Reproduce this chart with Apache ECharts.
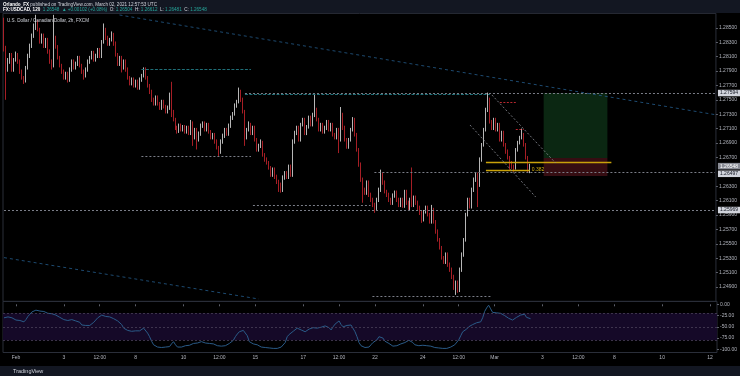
<!DOCTYPE html>
<html><head><meta charset="utf-8">
<script src="https://cdn.jsdelivr.net/npm/echarts@6/dist/echarts.min.js"></script>
<style>html,body{margin:0;padding:0;background:#000;}#c{width:740px;height:376px;}</style>
</head><body><div id="c"></div>
<script>
// ---- data: 2h candles [open, close, low, high] ----
const ohlc = [
[1.2858,1.2822,1.2817,1.2864],[1.2822,1.2795,1.2750,1.2825],[1.2795,1.2803,1.2789,1.2808],[1.2803,1.2813,1.2800,1.2815],[1.2813,1.2792,1.2789,1.2815],
[1.2792,1.2806,1.2789,1.2808],[1.2806,1.2813,1.2803,1.2817],[1.2813,1.2803,1.2800,1.2815],[1.2803,1.2789,1.2786,1.2806],[1.2789,1.2781,1.2778,1.2792],
[1.2781,1.2776,1.2772,1.2783],[1.2776,1.2795,1.2774,1.2797],[1.2795,1.2811,1.2792,1.2814],[1.2811,1.2825,1.2808,1.2828],[1.2825,1.2839,1.2822,1.2842],
[1.2839,1.2850,1.2836,1.2856],[1.2850,1.2858,1.2847,1.2868],[1.2858,1.2847,1.2845,1.2861],[1.2847,1.2831,1.2828,1.2850],[1.2831,1.2839,1.2828,1.2842],
[1.2839,1.2825,1.2822,1.2842],[1.2825,1.2833,1.2822,1.2836],[1.2833,1.2817,1.2814,1.2836],[1.2817,1.2803,1.2800,1.2820],[1.2803,1.2797,1.2792,1.2806],
[1.2797,1.2836,1.2795,1.2868],[1.2836,1.2824,1.2821,1.2839],[1.2824,1.2808,1.2806,1.2826],[1.2808,1.2797,1.2795,1.2811],[1.2797,1.2789,1.2786,1.2800],
[1.2789,1.2781,1.2778,1.2792],[1.2781,1.2786,1.2778,1.2789],[1.2786,1.2778,1.2774,1.2789],[1.2778,1.2792,1.2775,1.2795],[1.2792,1.2803,1.2789,1.2806],
[1.2803,1.2795,1.2792,1.2806],[1.2795,1.2800,1.2792,1.2803],[1.2800,1.2808,1.2797,1.2811],[1.2808,1.2797,1.2795,1.2811],[1.2797,1.2789,1.2786,1.2800],
[1.2789,1.2783,1.2778,1.2792],[1.2783,1.2792,1.2781,1.2795],[1.2792,1.2803,1.2789,1.2806],[1.2803,1.2808,1.2800,1.2811],[1.2808,1.2815,1.2806,1.2818],
[1.2815,1.2806,1.2803,1.2818],[1.2806,1.2811,1.2803,1.2814],[1.2811,1.2820,1.2808,1.2822],[1.2820,1.2811,1.2808,1.2822],[1.2811,1.2831,1.2808,1.2833],
[1.2831,1.2847,1.2828,1.2856],[1.2847,1.2836,1.2833,1.2850],[1.2836,1.2828,1.2825,1.2839],[1.2828,1.2833,1.2825,1.2836],[1.2833,1.2840,1.2831,1.2845],
[1.2840,1.2828,1.2825,1.2843],[1.2828,1.2813,1.2810,1.2831],[1.2813,1.2800,1.2797,1.2815],[1.2800,1.2808,1.2797,1.2811],[1.2808,1.2795,1.2788,1.2811],
[1.2795,1.2803,1.2792,1.2806],[1.2803,1.2792,1.2789,1.2806],[1.2792,1.2781,1.2778,1.2795],[1.2781,1.2772,1.2770,1.2783],[1.2772,1.2778,1.2770,1.2781],
[1.2778,1.2770,1.2767,1.2781],[1.2770,1.2775,1.2767,1.2778],[1.2775,1.2767,1.2764,1.2778],[1.2767,1.2778,1.2764,1.2781],[1.2778,1.2783,1.2775,1.2786],
[1.2783,1.2792,1.2781,1.2795],[1.2792,1.2781,1.2778,1.2795],[1.2781,1.2770,1.2767,1.2783],[1.2770,1.2761,1.2758,1.2772],[1.2761,1.2750,1.2747,1.2764],
[1.2750,1.2745,1.2742,1.2753],[1.2745,1.2753,1.2742,1.2756],[1.2753,1.2745,1.2742,1.2756],[1.2745,1.2739,1.2736,1.2747],[1.2739,1.2747,1.2736,1.2750],
[1.2747,1.2740,1.2738,1.2750],[1.2740,1.2733,1.2731,1.2743],[1.2733,1.2739,1.2731,1.2742],[1.2739,1.2756,1.2736,1.2760],[1.2756,1.2733,1.2726,1.2775],
[1.2733,1.2722,1.2720,1.2736],[1.2722,1.2711,1.2708,1.2725],[1.2711,1.2707,1.2703,1.2714],[1.2707,1.2714,1.2704,1.2717],[1.2714,1.2708,1.2706,1.2717],
[1.2708,1.2713,1.2706,1.2715],[1.2713,1.2706,1.2703,1.2715],[1.2706,1.2711,1.2703,1.2714],[1.2711,1.2704,1.2701,1.2714],[1.2704,1.2717,1.2701,1.2722],
[1.2717,1.2697,1.2686,1.2720],[1.2697,1.2708,1.2695,1.2711],[1.2708,1.2695,1.2681,1.2711],[1.2695,1.2703,1.2692,1.2706],[1.2703,1.2714,1.2700,1.2717],
[1.2714,1.2717,1.2711,1.2720],[1.2717,1.2708,1.2706,1.2720],[1.2708,1.2715,1.2706,1.2718],[1.2715,1.2706,1.2703,1.2718],[1.2706,1.2697,1.2695,1.2708],
[1.2697,1.2701,1.2695,1.2704],[1.2701,1.2692,1.2689,1.2704],[1.2692,1.2683,1.2681,1.2695],[1.2683,1.2678,1.2672,1.2686],[1.2678,1.2692,1.2675,1.2695],
[1.2692,1.2700,1.2689,1.2703],[1.2700,1.2708,1.2697,1.2711],[1.2708,1.2703,1.2700,1.2711],[1.2703,1.2714,1.2700,1.2717],[1.2714,1.2725,1.2711,1.2728],
[1.2725,1.2731,1.2722,1.2733],[1.2731,1.2742,1.2728,1.2745],[1.2742,1.2747,1.2739,1.2750],[1.2747,1.2758,1.2745,1.2767],[1.2758,1.2750,1.2747,1.2764],
[1.2750,1.2733,1.2731,1.2753],[1.2733,1.2697,1.2686,1.2736],[1.2697,1.2708,1.2695,1.2711],[1.2708,1.2715,1.2706,1.2720],[1.2715,1.2704,1.2701,1.2718],
[1.2704,1.2711,1.2701,1.2714],[1.2711,1.2695,1.2692,1.2714],[1.2695,1.2681,1.2678,1.2697],[1.2681,1.2686,1.2678,1.2689],[1.2686,1.2690,1.2683,1.2695],
[1.2690,1.2674,1.2671,1.2693],[1.2674,1.2667,1.2664,1.2676],[1.2667,1.2663,1.2660,1.2670],[1.2663,1.2656,1.2653,1.2665],[1.2656,1.2646,1.2643,1.2658],
[1.2646,1.2653,1.2643,1.2656],[1.2653,1.2643,1.2640,1.2656],[1.2643,1.2636,1.2633,1.2646],[1.2636,1.2632,1.2622,1.2639],[1.2632,1.2625,1.2621,1.2635],
[1.2625,1.2642,1.2622,1.2645],[1.2642,1.2649,1.2639,1.2651],[1.2649,1.2643,1.2640,1.2651],[1.2643,1.2657,1.2640,1.2660],[1.2657,1.2646,1.2643,1.2660],
[1.2646,1.2692,1.2643,1.2695],[1.2692,1.2704,1.2689,1.2707],[1.2704,1.2711,1.2701,1.2714],[1.2711,1.2695,1.2692,1.2714],[1.2695,1.2715,1.2692,1.2718],
[1.2715,1.2722,1.2713,1.2725],[1.2722,1.2704,1.2701,1.2725],[1.2704,1.2713,1.2701,1.2715],[1.2713,1.2725,1.2710,1.2728],[1.2725,1.2715,1.2713,1.2728],
[1.2715,1.2729,1.2713,1.2732],[1.2729,1.2736,1.2726,1.2757],[1.2736,1.2722,1.2720,1.2739],[1.2722,1.2708,1.2706,1.2725],[1.2708,1.2715,1.2706,1.2718],
[1.2715,1.2706,1.2703,1.2718],[1.2706,1.2711,1.2703,1.2714],[1.2711,1.2720,1.2708,1.2722],[1.2720,1.2708,1.2706,1.2722],[1.2708,1.2715,1.2706,1.2718],
[1.2715,1.2701,1.2699,1.2718],[1.2701,1.2697,1.2695,1.2704],[1.2697,1.2708,1.2695,1.2711],[1.2708,1.2695,1.2676,1.2711],[1.2695,1.2729,1.2692,1.2740],
[1.2729,1.2711,1.2708,1.2732],[1.2711,1.2695,1.2692,1.2714],[1.2695,1.2685,1.2682,1.2697],[1.2685,1.2695,1.2682,1.2697],[1.2695,1.2708,1.2692,1.2711],
[1.2708,1.2722,1.2706,1.2726],[1.2722,1.2701,1.2699,1.2725],[1.2701,1.2681,1.2678,1.2704],[1.2681,1.2660,1.2657,1.2683],[1.2660,1.2639,1.2636,1.2663],
[1.2639,1.2625,1.2607,1.2642],[1.2625,1.2621,1.2618,1.2628],[1.2621,1.2635,1.2618,1.2638],[1.2635,1.2618,1.2615,1.2638],[1.2618,1.2611,1.2608,1.2621],
[1.2611,1.2604,1.2601,1.2614],[1.2604,1.2600,1.2593,1.2607],[1.2600,1.2611,1.2597,1.2614],[1.2611,1.2625,1.2608,1.2628],[1.2625,1.2646,1.2622,1.2653],
[1.2646,1.2635,1.2632,1.2649],[1.2635,1.2622,1.2620,1.2638],[1.2622,1.2618,1.2615,1.2625],[1.2618,1.2611,1.2608,1.2621],[1.2611,1.2607,1.2604,1.2614],
[1.2607,1.2617,1.2604,1.2620],[1.2617,1.2621,1.2614,1.2624],[1.2621,1.2611,1.2608,1.2624],[1.2611,1.2604,1.2601,1.2614],[1.2604,1.2611,1.2601,1.2614],
[1.2611,1.2603,1.2600,1.2614],[1.2603,1.2622,1.2600,1.2625],[1.2622,1.2607,1.2604,1.2625],[1.2607,1.2600,1.2597,1.2610],[1.2600,1.2611,1.2597,1.2614],
[1.2611,1.2604,1.2601,1.2656],[1.2604,1.2614,1.2601,1.2617],[1.2614,1.2607,1.2604,1.2617],[1.2607,1.2600,1.2597,1.2610],[1.2600,1.2593,1.2590,1.2603],
[1.2593,1.2583,1.2579,1.2596],[1.2583,1.2595,1.2581,1.2597],[1.2595,1.2600,1.2592,1.2603],[1.2600,1.2590,1.2588,1.2603],[1.2590,1.2581,1.2578,1.2593],
[1.2581,1.2597,1.2578,1.2604],[1.2597,1.2581,1.2578,1.2600],[1.2581,1.2567,1.2564,1.2583],[1.2567,1.2556,1.2553,1.2570],[1.2556,1.2545,1.2542,1.2558],
[1.2545,1.2531,1.2528,1.2547],[1.2531,1.2525,1.2522,1.2533],[1.2525,1.2535,1.2522,1.2538],[1.2535,1.2521,1.2518,1.2538],[1.2521,1.2514,1.2511,1.2524],
[1.2514,1.2504,1.2501,1.2517],[1.2504,1.2489,1.2486,1.2507],[1.2489,1.2496,1.2479,1.2499],[1.2496,1.2486,1.2482,1.2499],[1.2486,1.2514,1.2483,1.2517],
[1.2514,1.2535,1.2511,1.2538],[1.2535,1.2556,1.2532,1.2558],[1.2556,1.2590,1.2553,1.2593],[1.2590,1.2611,1.2588,1.2614],[1.2611,1.2601,1.2599,1.2614],
[1.2601,1.2625,1.2599,1.2628],[1.2625,1.2639,1.2622,1.2642],[1.2639,1.2646,1.2636,1.2649],[1.2646,1.2632,1.2601,1.2649],[1.2632,1.2667,1.2629,1.2670],
[1.2667,1.2688,1.2664,1.2690],[1.2688,1.2708,1.2685,1.2711],[1.2708,1.2736,1.2706,1.2739],[1.2736,1.2750,1.2733,1.2760],[1.2750,1.2720,1.2717,1.2753],
[1.2720,1.2711,1.2708,1.2722],[1.2711,1.2722,1.2708,1.2725],[1.2722,1.2708,1.2706,1.2725],[1.2708,1.2715,1.2706,1.2718],[1.2715,1.2695,1.2692,1.2718],
[1.2695,1.2704,1.2692,1.2707],[1.2704,1.2688,1.2685,1.2707],[1.2688,1.2678,1.2675,1.2690],[1.2678,1.2670,1.2667,1.2681],[1.2670,1.2663,1.2653,1.2672],
[1.2663,1.2657,1.2654,1.2665],[1.2657,1.2656,1.2650,1.2660],[1.2656,1.2681,1.2653,1.2683],[1.2681,1.2690,1.2678,1.2693],[1.2690,1.2697,1.2688,1.2700],
[1.2697,1.2701,1.2695,1.2710],[1.2701,1.2688,1.2685,1.2704],[1.2688,1.2670,1.2667,1.2690],[1.2670,1.2651,1.2649,1.2672],[1.26504,1.26548,1.26481,1.26612]
];

// Williams %R (lower pane)
const williamsR = [
-30,-26,-28,-25,-30,-33,-35,-32,-36,-39,
-39,-34,-27,-22,-17,-14,-13,-13,-15,-18,
-16,-19,-20,-18,-21,-20,-24,-26,-29,-32,
-34,-31,-36,-37,-34,-36,-37,-35,-40,-46,
-44,-47,-46,-47,-44,-40,-35,-30,-28,-24,
-22,-27,-25,-28,-30,-32,-34,-37,-39,-45,
-53,-55,-58,-61,-60,-61,-59,-60,-59,-56,
-53,-56,-64,-72,-82,-90,-92,-95,-97,-96,
-93,-95,-96,-94,-88,-83,-90,-95,-97,-95,
-93,-92,-90,-91,-88,-87,-89,-86,-85,-83,
-84,-86,-85,-87,-89,-88,-90,-92,-94,-93,
-94,-92,-90,-87,-87,-80,-72,-66,-61,-60,
-58,-57,-70,-83,-85,-88,-87,-90,-93,-95,
-97,-96,-98,-97,-98,-98,-97,-98,-96,-95,
-94,-85,-72,-67,-64,-60,-56,-53,-53,-57,
-60,-61,-57,-55,-53,-52,-50,-53,-53,-51,
-49,-48,-47,-52,-57,-50,-44,-42,-37,-45,
-50,-49,-47,-46,-46,-50,-61,-72,-85,-92,
-94,-96,-97,-95,-90,-85,-82,-79,-72,-68,
-75,-82,-86,-87,-90,-93,-94,-92,-90,-88,
-87,-85,-82,-80,-79,-85,-90,-92,-92,-90,
-91,-90,-92,-90,-93,-95,-96,-97,-97,-98,
-98,-98,-98,-96,-95,-92,-90,-86,-79,-70,
-61,-57,-55,-50,-48,-45,-42,-41,-40,-39,
-30,-16,-8,-2,-10,-18,-18,-19,-20,-20,
-22,-25,-28,-31,-34,-35,-32,-29,-27,-24,
-20,-22,-29,-31,-32
];

// axis ticks / labels
const priceTicks = [1.249,1.251,1.253,1.255,1.257,1.259,1.261,1.263,1.267,1.269,1.271,1.273,1.275,1.277,1.279,1.281,1.283,1.285];
const rTicks = [0,-25,-50,-75,-100];
const timeLabels = [[6,'Feb'],[30,'3'],[48,'12:00'],[66,'8'],[90,'10'],[108,'12:00'],[126,'15'],[150,'17'],[168,'12:00'],[186,'22'],[210,'24'],[228,'12:00'],[246,'Mar'],[270,'3'],[288,'12:00'],[306,'8'],[330,'10'],[354,'12']];
const slotCount = 358;

// drawings (bar index, price)
const dottedLevels = [[69,124,1.26719],[125,184,1.26039],[0,357,1.25969],[121,357,1.27594],[186,357,1.26497],[185,245,1.24775]];
const labelledLevels = [1.25969,1.27594,1.26497];
const tealLevels = [[69,124,1.27921],[121,244,1.27573]];
const yellowLevels = [[242,305,1.26626],[242,264,1.26525]];
const redLevels = [[249,257,1.27469],[257,261,1.27094]];
const trendLines = [[58,1.28678,357,1.27294],[0,1.25308,128,1.24733]];
const channelLines = [[234,1.27150,267,1.26150],[245,1.27567,277,1.26622]];
const positionBox = {from:271, to:303, target:1.27594, entry:1.26692, stop:1.26442};
const lastClose = 1.26548;
const rBand = [-20,-80];
const rLevels = [-20,-50,-80];

const categories = [];
for (let i = 0; i < slotCount; i++) categories.push(String(i));
const labelMap = {};
timeLabels.forEach(t => labelMap[t[0]] = t[1]);

const FONT = 'Liberation Sans, Arial, sans-serif';
const markLines = [];
function seg(a, pa, b, pb, lineStyle, label) {
  markLines.push([{coord:[a,pa], lineStyle, label: label || {show:false}}, {coord:[b,pb]}]);
}
const axisLbl = (txt, bg, fg, dy) => ({show:true, position:'end', formatter:txt, fontSize:5, fontFamily:FONT,
  color:fg, backgroundColor:bg, padding:[1,2,0.5,2], distance:3, offset:[0, dy||0]});

dottedLevels.forEach(l => {
  const lab = labelledLevels.includes(l[2]) ? axisLbl(l[2].toFixed(5), '#d1d4dc', '#131722', l[2]===1.26497?1.8:0) : null;
  seg(l[0], l[2], l[1], l[2], {color:'#7b7e88', type:[2,2], width:1}, lab);
});
tealLevels.forEach(l => seg(l[0], l[2], l[1], l[2], {color:'#1f6f78', type:[3,1.5], width:1}));
yellowLevels.forEach((l, k) => seg(l[0], l[2], l[1], l[2], {color:'#c9a20a', type:'solid', width:1.3},
  k === 1 ? {show:true, position:'end', formatter:'0.382', fontSize:5, fontFamily:FONT, color:'#d9b20f', distance:2} : null));
redLevels.forEach(l => seg(l[0], l[2], l[1], l[2], {color:'#b8282f', type:[2,1.5], width:1}));
trendLines.forEach(l => seg(l[0], l[1], l[2], l[3], {color:'#1d4a70', type:[3,3], width:1}));
channelLines.forEach(l => seg(l[0], l[1], l[2], l[3], {color:'#8e9099', type:[2,2], width:0.8}));
seg(264, lastClose, slotCount - 1, lastClose, {color:'rgba(0,0,0,0)', width:0.01}, axisLbl(lastClose.toFixed(5), '#8a8d96', '#ffffff', -2.2));

const chart = echarts.init(document.getElementById('c'), null, {renderer:'canvas', width:740, height:376});
chart.setOption({
  animation:false,
  backgroundColor:'#000000',
  textStyle:{fontFamily:FONT},
  grid:[
    {left:3, right:23, top:13.4, height:288, show:true, borderColor:'#2a2e39', borderWidth:1},
    {left:3, right:23, top:301.4, height:51.1, show:true, borderColor:'#2a2e39', borderWidth:1}
  ],
  xAxis:[
    {gridIndex:0, type:'category', data:categories, boundaryGap:true, axisLine:{show:false}, axisTick:{show:false}, axisLabel:{show:false}, splitLine:{show:false}},
    {gridIndex:1, type:'category', data:categories, boundaryGap:true, axisLine:{show:false},
      axisTick:{show:true, alignWithLabel:true, length:2, interval:(i)=>labelMap[i]!==undefined, lineStyle:{color:'#5d606b'}},
      axisLabel:{interval:(i)=>labelMap[i]!==undefined, formatter:(v)=>labelMap[v]||'', fontSize:5, color:'#b2b5be', margin:3, fontFamily:FONT},
      splitLine:{show:false}}
  ],
  yAxis:[
    {gridIndex:0, type:'value', position:'right', min:1.247, max:1.287, axisLine:{show:false},
      axisTick:{show:true, customValues:priceTicks, length:2, lineStyle:{color:'#5d606b'}},
      axisLabel:{customValues:priceTicks, formatter:(v)=>v.toFixed(5), fontSize:5, color:'#b2b5be', margin:3, fontFamily:FONT},
      splitLine:{show:false}},
    {gridIndex:1, type:'value', position:'right', min:-107.11, max:6.44, axisLine:{show:false},
      axisTick:{show:true, customValues:rTicks, length:2, lineStyle:{color:'#5d606b'}},
      axisLabel:{customValues:rTicks, formatter:(v)=>v.toFixed(2), fontSize:5, color:'#b2b5be', margin:3, fontFamily:FONT},
      splitLine:{show:false}}
  ],
  series:[
    {type:'candlestick', xAxisIndex:0, yAxisIndex:0, data:ohlc, barWidth:1.3,
      itemStyle:{color:'#e4e4e4', color0:'#d0262e', borderColor:'#e4e4e4', borderColor0:'#d0262e', borderWidth:0.8},
      markArea:{silent:true, data:[
        [{coord:[positionBox.from, positionBox.target], itemStyle:{color:'#0b2712'}}, {coord:[positionBox.to, positionBox.entry]}],
        [{coord:[positionBox.from, positionBox.entry], itemStyle:{color:'#360d12'}}, {coord:[positionBox.to, positionBox.stop]}]
      ]},
      markLine:{silent:true, symbol:['none','none'], animation:false, data:markLines}
    },
    {type:'line', xAxisIndex:1, yAxisIndex:1, data:williamsR, symbol:'none', lineStyle:{color:'#2a5b88', width:1},
      markArea:{silent:true, itemStyle:{color:'#150928'}, data:[[{yAxis:rBand[0]},{yAxis:rBand[1]}]]},
      markLine:{silent:true, symbol:['none','none'], label:{show:false}, lineStyle:{color:'#4a4058', type:[2,2], width:0.8},
        data:rLevels.map(v=>({yAxis:v}))}
    }
  ],
  graphic:[
    {type:'rect', shape:{x:0,y:0,width:740,height:13}, style:{fill:'#131722'}, z:10},
    {type:'rect', shape:{x:0,y:366,width:740,height:10}, style:{fill:'#131722'}, z:10},
    {type:'text', x:3, y:4.6, z:11, style:{text:'{b|Orlando_FX} published on TradingView.com, March 02, 2021 12:57:53 UTC',
      fill:'#d1d4dc', fontSize:4.6, fontFamily:FONT, verticalAlign:'middle', rich:{b:{fontWeight:'bold', fill:'#ffffff', fontSize:4.6}}}},
    {type:'text', x:3, y:10.2, z:11, style:{text:'{b|FX:USDCAD, 120}  {t|1.26548}  {t|▲ +0.00102 (+0.08%)}  O: {t|1.26504}  H: {t|1.26612}  L: {t|1.26481}  C: {t|1.26548}',
      fill:'#d1d4dc', fontSize:4.6, fontFamily:FONT, verticalAlign:'middle',
      rich:{b:{fontWeight:'bold', fill:'#ffffff', fontSize:4.6}, t:{fill:'#26a69a', fontSize:4.6}}}},
    {type:'text', x:7, y:21, z:11, style:{text:'U.S. Dollar / Canadian Dollar, 2h, FXCM', fill:'#d1d4dc', fontSize:4.6, fontFamily:FONT, verticalAlign:'middle'}},
    {type:'group', x:3, y:368, z:11, children:[
      {type:'circle', shape:{cx:4, cy:2.2, r:2.2}, style:{fill:'#2196f3'}},
      {type:'circle', shape:{cx:2, cy:3.6, r:1.6}, style:{fill:'#2196f3'}},
      {type:'circle', shape:{cx:6.4, cy:3.6, r:1.6}, style:{fill:'#2196f3'}},
      {type:'rect', shape:{x:1.5, y:3.6, width:5.5, height:1.6}, style:{fill:'#2196f3'}}
    ]},
    {type:'text', x:13, y:371, z:11, style:{text:'TradingView', fill:'#d1d4dc', fontSize:5.5, fontFamily:FONT, verticalAlign:'middle'}}
  ]
});
</script>
</body></html>
